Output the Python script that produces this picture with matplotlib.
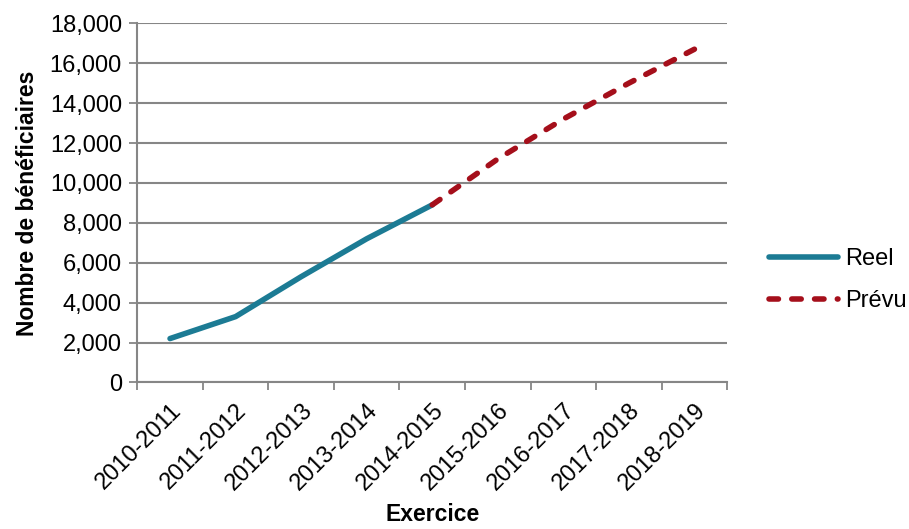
import numpy as np
import matplotlib.pyplot as plt
from matplotlib.ticker import FuncFormatter

plt.rcParams['font.family'] = ['Liberation Sans', 'DejaVu Sans']

exercices = ['2010-2011', '2011-2012', '2012-2013', '2013-2014', '2014-2015',
             '2015-2016', '2016-2017', '2017-2018', '2018-2019']
reel = [2200, 3300, 5300, 7200, 8900]
prevu = [8900, 11200, 13200, 15000, 16700]   # starts at the last actual year

bleu = '#1C7B94'
rouge = '#A50F1B'
gris = '#868686'

fig = plt.figure(figsize=(9.09, 5.29), dpi=100)
ax = fig.add_axes([0.151, 0.277, 0.649, 0.679])

x_reel = np.arange(len(reel))
x_prevu = np.arange(len(reel) - 1, len(exercices))

ax.plot(x_reel, reel, color=bleu, lw=4, solid_capstyle='round', label='Reel', zorder=3)
ax.plot(x_prevu, prevu, color=rouge, lw=4, dashes=(1.7, 2.4), dash_capstyle='round',
        label='Prévu', zorder=3)

ax.set_xlim(-0.5, len(exercices) - 0.5)
ax.set_ylim(0, 18000)
ax.set_yticks(np.arange(0, 18001, 2000))
ax.yaxis.set_major_formatter(FuncFormatter(lambda v, p: f'{int(v):,}'))

# labels centred on categories, tick marks on category boundaries
ax.set_xticks(np.arange(len(exercices)))
ax.set_xticklabels(exercices, rotation=45, ha='right', rotation_mode='anchor')
ax.set_xticks(np.arange(-0.5, len(exercices)), minor=True)
ax.tick_params(axis='x', which='major', length=0, pad=12, labelsize=17)
ax.tick_params(axis='x', which='minor', length=6, width=1.3, color=gris)
ax.tick_params(axis='y', length=6, width=1.3, color=gris, labelsize=17, pad=5)

ax.grid(axis='y', color=gris, lw=1.5)
ax.set_axisbelow(True)
for s in ['top', 'right']:
    ax.spines[s].set_visible(False)
for s in ['left', 'bottom']:
    ax.spines[s].set_color(gris)
    ax.spines[s].set_linewidth(1.5)

ax.set_ylabel('Nombre de bénéficiaires', fontsize=16.5, fontweight='bold', labelpad=8)
ax.set_xlabel('Exercice', fontsize=16.5, fontweight='bold', labelpad=6)

ax.legend(loc='center left', bbox_to_anchor=(1.035, 0.285), frameon=False, fontsize=17,
          handlelength=2.9, handletextpad=0.3, labelspacing=0.85)

fig.savefig('out.png', dpi=100)
